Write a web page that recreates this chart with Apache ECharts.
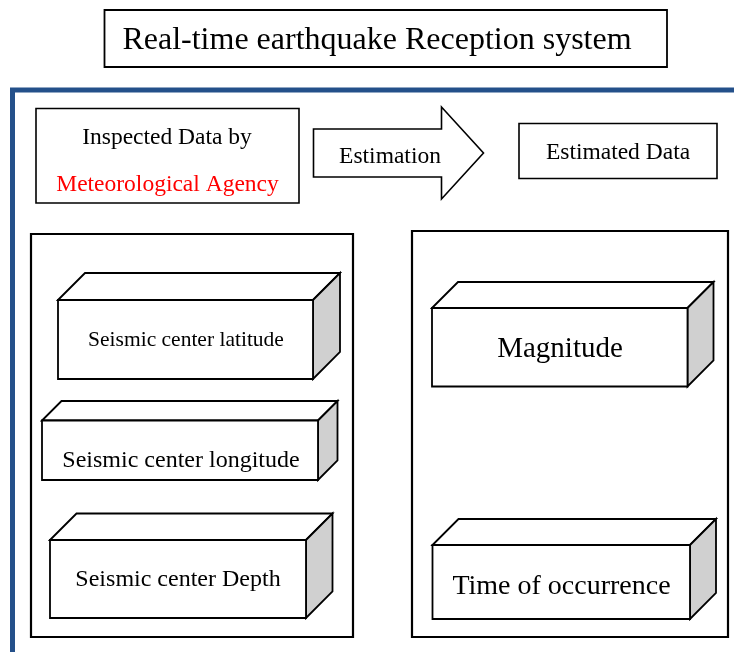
<!DOCTYPE html>
<html>
<head>
<meta charset="utf-8">
<script src="https://cdn.jsdelivr.net/npm/echarts@6/dist/echarts.min.js"></script>
<style>
html,body{margin:0;padding:0;background:#fff;}
#chart{width:734px;height:652px;}
</style>
</head>
<body>
<div id="chart"></div>
<script>
// ---- Content (text) ----
const titleText = 'Real-time earthquake Reception system';
const sourceLines = ['Inspected Data by', 'Meteorological Agency'];
const processLabel = 'Estimation';
const outputHeader = 'Estimated Data';
const inputItems = ['Seismic center latitude', 'Seismic center longitude', 'Seismic center Depth'];
const outputItems = ['Magnitude', 'Time of occurrence'];

// ---- Layout (diagram coordinates in axis units) ----
const titleBox = [104.5, 10, 667, 67];
const titleTextPos = [377, 40.5];
const sourceBox = [36, 108.5, 299, 203];
const sourceTextY = [137.5, 184.5];
const arrowShape = [313.5, 129, 441.5, 177, 107, 199, 483.5]; // bodyX0, bodyY0, headX, bodyY1, headTop, headBottom, tipX
const arrowText = [390, 157];
const outputBox = [519, 123.5, 717, 178.5];
const frameLine = [[12.5, 700], [12.5, 90], [760, 90]];
const leftPanel = [31, 234, 353, 637];
const rightPanel = [412, 231, 728, 637];
const inputCubes = [
  [58, 300, 313, 379, 27, 186, 340.5, 21.5],
  [42, 420.5, 318, 480, 19.5, 181, 460.5, 24],
  [50, 540, 306, 618, 26.5, 178, 580, 24]
];
const outputCubes = [
  [432, 308, 687.5, 386.5, 26, 560, 349.5, 29],
  [432.5, 545, 690, 619, 26, 561.5, 587, 28]
];

const FONT = '"Liberation Serif", "Times New Roman", serif';
const BLUE = '#24508a';

// Build element list
const elements = [];
elements.push({kind: 'frame'});
elements.push({kind: 'box', b: titleBox, lw: 1.8, texts: [{t: titleText, x: titleTextPos[0], y: titleTextPos[1], s: 32}]});
elements.push({kind: 'box', b: sourceBox, lw: 1.6, texts: [
  {t: sourceLines[0], x: 167, y: sourceTextY[0], s: 23.5},
  {t: sourceLines[1], x: 167.5, y: sourceTextY[1], s: 23.5, c: '#ff0000'}
]});
elements.push({kind: 'arrow'});
elements.push({kind: 'box', b: outputBox, lw: 1.6, texts: [{t: outputHeader, x: 618, y: 153, s: 23.5}]});
elements.push({kind: 'box', b: leftPanel, lw: 2.2, texts: []});
elements.push({kind: 'box', b: rightPanel, lw: 2.2, texts: []});
inputCubes.forEach((c, i) => elements.push({kind: 'cube', c: c, t: inputItems[i]}));
outputCubes.forEach((c, i) => elements.push({kind: 'cube', c: c, t: outputItems[i]}));

function textEl(api, t, x, y, size, color) {
  const p = api.coord([x, y]);
  return {
    type: 'text',
    style: {
      text: t, x: p[0], y: p[1], fill: color || '#000',
      font: size + 'px ' + FONT,
      align: 'center', verticalAlign: 'middle'
    }
  };
}

function renderItem(params, api) {
  const e = elements[api.value(0)];
  const children = [];
  if (e.kind === 'frame') {
    children.push({
      type: 'polyline',
      shape: {points: frameLine.map(p => api.coord(p))},
      style: {stroke: BLUE, lineWidth: 5, fill: null}
    });
  } else if (e.kind === 'box') {
    const p0 = api.coord([e.b[0], e.b[1]]);
    const p1 = api.coord([e.b[2], e.b[3]]);
    children.push({
      type: 'rect',
      shape: {x: p0[0], y: p0[1], width: p1[0] - p0[0], height: p1[1] - p0[1]},
      style: {stroke: '#000', lineWidth: e.lw, fill: '#fff'}
    });
    e.texts.forEach(tt => children.push(textEl(api, tt.t, tt.x, tt.y, tt.s, tt.c)));
  } else if (e.kind === 'arrow') {
    const a = arrowShape;
    const pts = [
      [a[0], a[1]], [a[2], a[1]], [a[2], a[4]], [a[6], (a[4] + a[5]) / 2],
      [a[2], a[5]], [a[2], a[3]], [a[0], a[3]]
    ].map(p => api.coord(p));
    children.push({type: 'polygon', shape: {points: pts}, style: {stroke: '#000', lineWidth: 1.6, fill: '#fff'}});
    children.push(textEl(api, processLabel, arrowText[0], arrowText[1], 23.5));
  } else if (e.kind === 'cube') {
    const c = e.c;
    const x0 = c[0], y0 = c[1], x1 = c[2], y1 = c[3], d = c[4];
    const top = [[x0, y0], [x0 + d, y0 - d], [x1 + d, y0 - d], [x1, y0]].map(p => api.coord(p));
    const side = [[x1, y0], [x1 + d, y0 - d], [x1 + d, y1 - d], [x1, y1]].map(p => api.coord(p));
    const f0 = api.coord([x0, y0]);
    const f1 = api.coord([x1, y1]);
    children.push({type: 'polygon', shape: {points: top}, style: {stroke: '#000', lineWidth: 1.8, fill: '#fff', lineJoin: 'miter'}});
    children.push({type: 'polygon', shape: {points: side}, style: {stroke: '#000', lineWidth: 1.8, fill: '#d0d0d0', lineJoin: 'miter'}});
    children.push({type: 'rect', shape: {x: f0[0], y: f0[1], width: f1[0] - f0[0], height: f1[1] - f0[1]}, style: {stroke: '#000', lineWidth: 1.8, fill: '#fff'}});
    children.push(textEl(api, e.t, c[5], c[6], c[7]));
  }
  return {type: 'group', children: children};
}

const chart = echarts.init(document.getElementById('chart'), null, {renderer: 'canvas'});
chart.setOption({
  animation: false,
  backgroundColor: '#fff',
  grid: {left: 0, right: 0, top: 0, bottom: 0},
  xAxis: {type: 'value', min: 0, max: 734, show: false},
  yAxis: {type: 'value', min: 0, max: 652, inverse: true, show: false},
  series: [{
    type: 'custom',
    clip: false,
    silent: true,
    renderItem: renderItem,
    encode: {x: 1, y: 2},
    data: elements.map((e, i) => [i, 0, 0])
  }]
});
</script>
</body>
</html>
